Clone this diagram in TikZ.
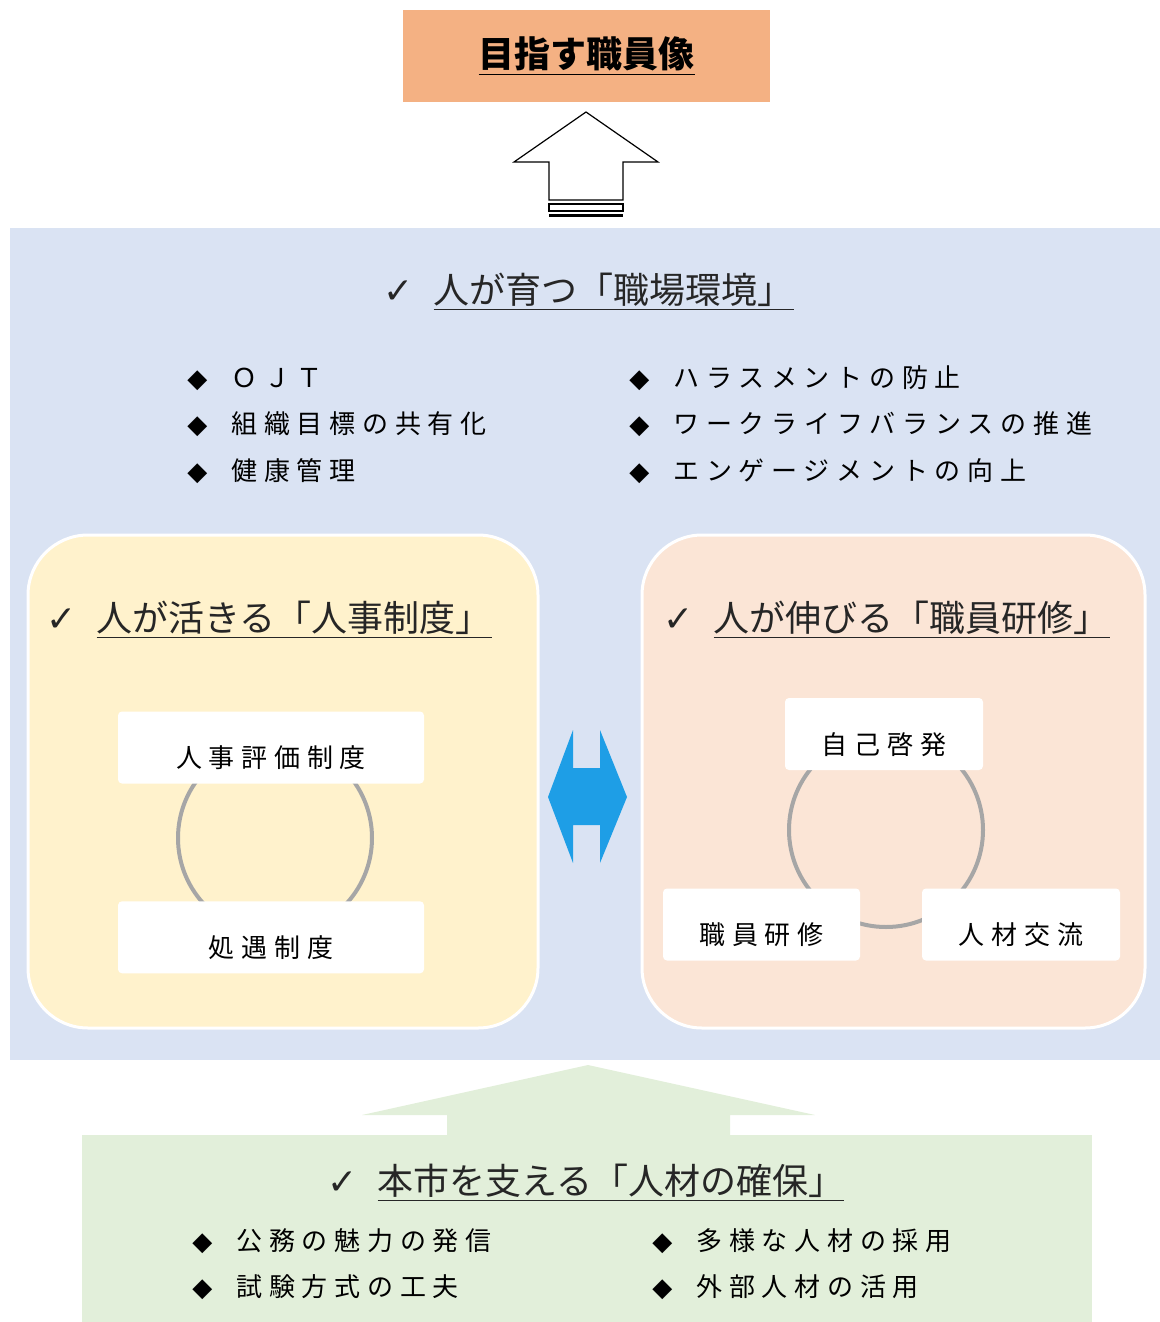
\documentclass[tikz,border=0pt]{standalone}
\usepackage{fontspec}
\setmainfont{Noto Sans CJK JP}
\newfontfamily\symfont{DejaVu Sans}
\newfontfamily\spacedfont[LetterSpace=26]{Noto Sans CJK JP}
\usepackage{xcolor}
\usepackage{tikz}
\usetikzlibrary{positioning}

\definecolor{goalorange}{HTML}{F4B183}
\definecolor{envblue}{HTML}{DAE3F3}
\definecolor{hryellow}{HTML}{FFF2CC}
\definecolor{trainpink}{HTML}{FBE5D6}
\definecolor{basegreen}{HTML}{E2EFDA}
\definecolor{linkblue}{HTML}{1E9EE6}
\definecolor{ringgray}{HTML}{A6A6A6}
\definecolor{titlegray}{HTML}{262626}

\begin{document}
\begin{tikzpicture}[x=0.5pt, y=-0.5pt,
    panel/.style={draw=white, line width=1.5pt, rounded corners=30pt},
    heading/.style={anchor=west, inner sep=0pt, text=titlegray, font=\fontsize{18pt}{20pt}\selectfont},
    point/.style={anchor=west, inner sep=0pt, text height=11pt, text depth=2pt, font=\spacedfont\fontsize{13pt}{15pt}\selectfont},
    cyclebox/.style={fill=white, rounded corners=2pt, minimum height=36pt, text height=20pt, text depth=0pt, font=\spacedfont\fontsize{13pt}{15pt}\selectfont},
    ring/.style={circle, draw=ringgray, line width=2pt, minimum size=97pt}
]
\useasboundingbox (0,0) rectangle (1160,1322);

% goal
\node[fill=goalorange, minimum width=183.5pt, minimum height=46pt, font=\bfseries\fontsize{18pt}{20pt}\selectfont] (goal) at (586.5,56) {\underline{目指す職員像}};

% hollow arrow up to the goal
\draw[fill=white, line width=0.6pt] (586,112) -- (658,162) -- (623,162) -- (623,200) -- (549,200) -- (549,162) -- (514,162) -- cycle;
\draw[fill=white, line width=0.6pt] (549,204) rectangle (623,211);
\fill (549,214) rectangle (623,217);

% workplace environment
\node[fill=envblue, minimum width=575pt, minimum height=416pt] (env) at (585,644) {};
\node[heading] (envtitle) at (383,292) {{\symfont ✓}\hspace{10pt}\underline{人が育つ「職場環境」}};

\node[point] (ojt) at (187,378) {{\symfont ◆}\hspace{12pt}ＯＪＴ};
\node[point, below=10pt of ojt.south west, anchor=north west] (goals) {{\symfont ◆}\hspace{12pt}組織目標の共有化};
\node[point, below=10pt of goals.south west, anchor=north west] (health) {{\symfont ◆}\hspace{12pt}健康管理};
\node[point] (harass) at (629,378) {{\symfont ◆}\hspace{12pt}ハラスメントの防止};
\node[point, below=10pt of harass.south west, anchor=north west] (wlb) {{\symfont ◆}\hspace{12pt}ワークライフバランスの推進};
\node[point, below=10pt of wlb.south west, anchor=north west] (engage) {{\symfont ◆}\hspace{12pt}エンゲージメントの向上};

% personnel system
\node[panel, fill=hryellow, minimum width=255pt, minimum height=246.5pt] (hr) at (283,781.5) {};
\node[heading] (hrtitle) at (46,620) {{\symfont ✓}\hspace{10pt}\underline{人が活きる「人事制度」}};
\node[ring] (hrring) at (275,838) {};
\node[cyclebox, minimum width=153pt] (hyoka) at (271,747.5) {人事評価制度};
\node[cyclebox, minimum width=153pt, below=58.5pt of hyoka] (shogu) {処遇制度};

% staff training
\node[panel, fill=trainpink, minimum width=251.5pt, minimum height=246.5pt] (train) at (893.5,781.5) {};
\node[heading] (traintitle) at (663,620) {{\symfont ✓}\hspace{10pt}\underline{人が伸びる「職員研修」}};
\node[ring] (trainring) at (886,830) {};
\node[cyclebox, minimum width=99pt] (keihatsu) at (884,734) {自己啓発};
\node[cyclebox, minimum width=98.5pt] (kenshu) at (761.5,924.5) {職員研修};
\node[cyclebox, minimum width=99pt] (koryu) at (1021,924.5) {人材交流};

% link between the two
\fill[linkblue] (548,797) -- (573,730) -- (573,768) -- (600,768) -- (600,730) -- (627,797)
    -- (600,863) -- (600,825) -- (573,825) -- (573,863) -- cycle;

% securing talent
\fill[basegreen] (588,1065) -- (815,1115) -- (730,1115) -- (730,1136) -- (447,1136) -- (447,1115) -- (362,1115) -- cycle;
\node[fill=basegreen, minimum width=505pt, minimum height=93.5pt] (base) at (587,1228.5) {};
\node[heading] (basetitle) at (327,1183) {{\symfont ✓}\hspace{10pt}\underline{本市を支える「人材の確保」}};

\node[point] (appeal) at (192,1241) {{\symfont ◆}\hspace{12pt}公務の魅力の発信};
\node[point, below=10pt of appeal.south west, anchor=north west] (exam) {{\symfont ◆}\hspace{12pt}試験方式の工夫};
\node[point] (diverse) at (652,1241) {{\symfont ◆}\hspace{12pt}多様な人材の採用};
\node[point, below=10pt of diverse.south west, anchor=north west] (external) {{\symfont ◆}\hspace{12pt}外部人材の活用};
\end{tikzpicture}
\end{document}
